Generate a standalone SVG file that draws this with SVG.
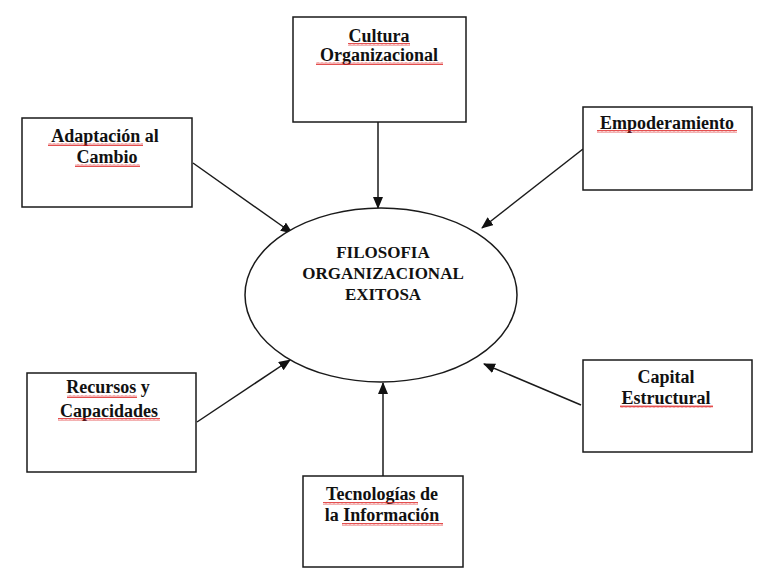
<svg xmlns="http://www.w3.org/2000/svg" width="765" height="585" viewBox="0 0 765 585">
<style>
.box{fill:#fff;stroke:#1a1a1a;stroke-width:1.5}
.lbl{font-family:"Liberation Serif","Times New Roman",serif;font-weight:bold;font-size:18px;fill:#111;text-anchor:middle}
.ctr{font-family:"Liberation Serif","Times New Roman",serif;font-weight:bold;font-size:17px;fill:#111;text-anchor:middle}
.con{stroke:#1a1a1a;stroke-width:1.5;fill:none;marker-end:url(#ah)}
.sp{fill:url(#wave)}
</style>
<defs>
<marker id="ah" markerWidth="12" markerHeight="10" refX="11" refY="5" orient="auto" markerUnits="userSpaceOnUse">
<path d="M0,0 L12,5 L0,10 Z" fill="#111"/>
</marker>
<pattern id="wave" width="4" height="3" patternUnits="userSpaceOnUse">
<path d="M0,2.5 L1,0.5 L2,2.5 L3,0.5 L4,2.5" stroke="#d22" stroke-width="0.8" fill="none"/>
</pattern>
</defs>
<rect width="765" height="585" fill="#fff"/>
<g id="connectors">
<line class="con" x1="378" y1="122" x2="378" y2="208"/>
<line class="con" x1="193" y1="163" x2="292" y2="233"/>
<line class="con" x1="583" y1="149" x2="482" y2="228"/>
<line class="con" x1="197" y1="422" x2="290" y2="360"/>
<line class="con" x1="581" y1="405" x2="484" y2="364"/>
<line class="con" x1="383" y1="476" x2="383" y2="383"/>
</g>
<g id="center">
<ellipse cx="381" cy="295" rx="136" ry="87" fill="#fff" stroke="#1a1a1a" stroke-width="1.5"/>
<text class="ctr" x="383" y="258">FILOSOFIA</text>
<text class="ctr" x="383" y="279">ORGANIZACIONAL</text>
<text class="ctr" x="383" y="300">EXITOSA</text>
</g>
<g id="cultura">
<rect class="box" x="293" y="17" width="173" height="105"/>
<text class="lbl" x="379" y="42">Cultura</text>
<text class="lbl" x="379" y="61">Organizacional</text>
<rect class="sp" x="348" y="43" width="62" height="3"/>
<rect class="sp" x="316" y="62" width="127" height="3"/>
</g>
<g id="adaptacion">
<rect class="box" x="22" y="118" width="170" height="89"/>
<text class="lbl" x="105" y="142">Adaptación al</text>
<text class="lbl" x="107" y="163">Cambio</text>
<rect class="sp" x="48" y="143" width="95" height="3"/>
<rect class="sp" x="75" y="164" width="65" height="3"/>
</g>
<g id="empoderamiento">
<rect class="box" x="583" y="107" width="169" height="83"/>
<text class="lbl" x="667" y="129">Empoderamiento</text>
<rect class="sp" x="597" y="130" width="140" height="3"/>
</g>
<g id="recursos">
<rect class="box" x="27" y="373" width="169" height="99"/>
<text class="lbl" x="108" y="393">Recursos y</text>
<text class="lbl" x="109" y="417">Capacidades</text>
<rect class="sp" x="67" y="395" width="70" height="3"/>
<rect class="sp" x="58" y="418" width="102" height="3"/>
</g>
<g id="capital">
<rect class="box" x="583" y="360" width="169" height="92"/>
<text class="lbl" x="666" y="383">Capital</text>
<text class="lbl" x="666" y="404">Estructural</text>
<rect class="sp" x="620" y="405" width="93" height="3"/>
</g>
<g id="tecnologias">
<rect class="box" x="303" y="476" width="160" height="91"/>
<text class="lbl" x="382" y="500">Tecnologías de</text>
<text class="lbl" x="382" y="521">la Información</text>
<rect class="sp" x="323" y="502" width="95" height="3"/>
<rect class="sp" x="342" y="523" width="101" height="3"/>
</g>
</svg>
